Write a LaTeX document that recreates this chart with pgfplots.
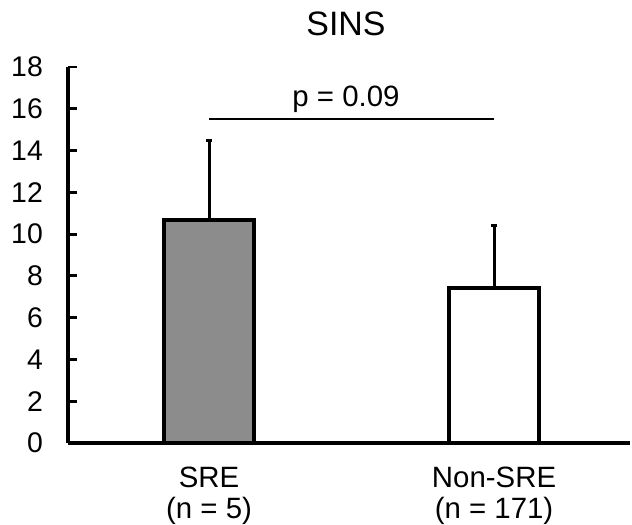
\documentclass[border=0pt]{standalone}
\usepackage{pgfplots}
\pgfplotsset{compat=1.18}
\usepackage{fontspec}
\setmainfont{Liberation Sans}
\definecolor{barfill}{RGB}{140,140,140}
\begin{document}
\begin{tikzpicture}
\path[use as bounding box] (-68bp,-82bp) rectangle (564bp,443bp);
\begin{axis}[
  at={(0bp,0bp)}, anchor=south west,
  scale only axis, width=562bp, height=376bp,
  xmin=0.505, xmax=2.477, ymin=0, ymax=18,
  axis x line=bottom, axis y line=left,
  axis line style={-, line width=3.2bp},
  clip=false,
  ytick={0,2,...,18},
  xtick={1,2},
  xticklabels={SRE\\(n = 5), Non-SRE\\(n = 171)},
  tick align=inside,
  major tick length=9bp,
  every tick/.style={black, line width=2.8bp},
  major x tick style={draw=none},
  /pgf/number format/assume math mode=true,
  yticklabel style={font=\fontsize{28.5}{28.5}\selectfont, inner sep=0pt, anchor=east, xshift=-25bp},
  xticklabel style={font=\fontsize{29.5}{31}\selectfont, align=center, inner sep=0pt, anchor=north, yshift=-24bp},
]
\addplot[ybar, bar shift=0pt, bar width=90bp, fill=barfill, draw=black, line width=4bp,
  error bars/.cd, y dir=plus, y explicit,
  error bar style={line width=3bp, black},
  error mark options={rotate=90, mark size=3bp, line width=3bp, black}]
  coordinates {(1,10.67) +- (0,3.83)};
\addplot[ybar, bar shift=0pt, bar width=90bp, fill=white, draw=black, line width=4bp,
  error bars/.cd, y dir=plus, y explicit,
  error bar style={line width=3bp, black},
  error mark options={rotate=90, mark size=3bp, line width=3bp, black}]
  coordinates {(2,7.42) +- (0,2.97)};
\addplot[black, line width=2.8bp, no markers] coordinates {(1,15.51) (2,15.51)};
\end{axis}
\node[anchor=base, inner sep=0pt, font=\fontsize{34}{34}\selectfont] at (278bp,407bp) {SINS};
\node[anchor=base, inner sep=0pt, font=\fontsize{29.5}{29.5}\selectfont] at (278bp,336bp) {p = 0.09};
\end{tikzpicture}
\end{document}
